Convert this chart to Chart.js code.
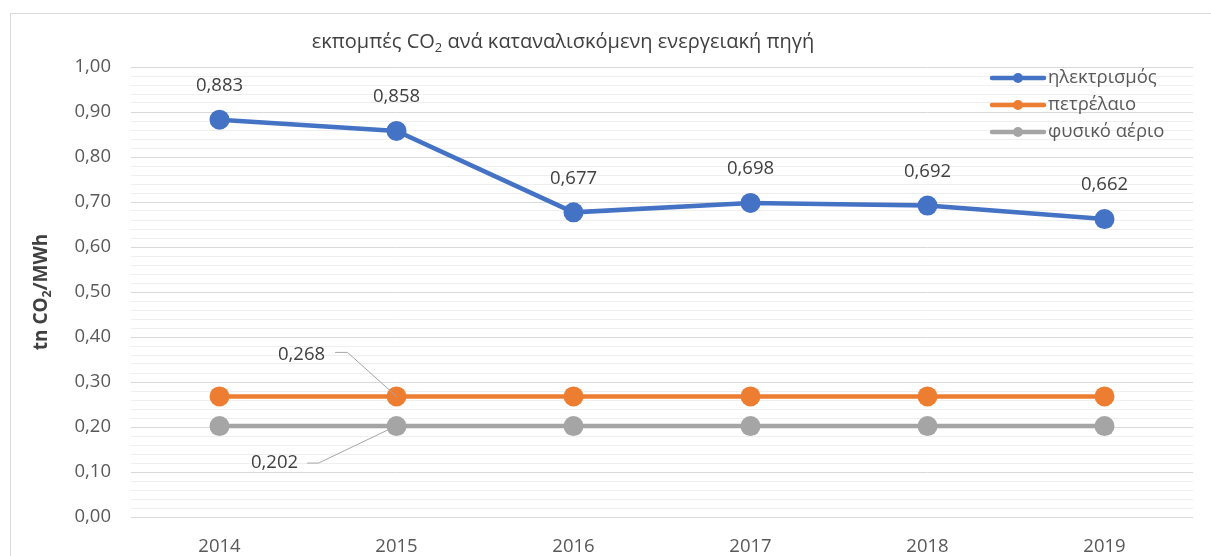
<!DOCTYPE html>
<html lang="el">
<head>
    <meta charset="UTF-8">
    <title>εκπομπές CO2 ανά καταναλισκόμενη ενεργειακή πηγή</title>
    <style>
        html, body { margin: 0; padding: 0; background: #ffffff; }
        #co2Chart { display: block; }
    </style>
    <script src="https://cdn.jsdelivr.net/npm/chart.js@4.4.6/dist/chart.umd.min.js"></script>
</head>
<body>
    <canvas id="co2Chart" width="1211" height="556"></canvas>

    <script>
        // chart data
        const years = ['2014', '2015', '2016', '2017', '2018', '2019'];
        const seriesNames = ['ηλεκτρισμός', 'πετρέλαιο', 'φυσικό αέριο'];
        const electricity = [0.883, 0.858, 0.677, 0.698, 0.692, 0.662];
        const oil = [0.268, 0.268, 0.268, 0.268, 0.268, 0.268];
        const naturalGas = [0.202, 0.202, 0.202, 0.202, 0.202, 0.202];
        const yMin = 0;
        const yMax = 1;
        const yMinorStep = 0.02;

        const colors = ['#4472C4', '#ED7D31', '#A5A5A5'];
        const FONT = "'Open Sans', sans-serif";
        const textGrey = '#595959';
        const labelGrey = '#404040';
        const textSize = 18.5;

        const fmt = v => v.toFixed(3).replace('.', ',');
        const isMajor = v => Math.round(v * 100) % 10 === 0;

        // draws text with a subscript "2" after CO
        function drawSubText(ctx, parts, x, y, size, align) {
            let total = 0;
            parts.forEach(p => {
                ctx.font = (p.bold ? 'bold ' : '') + (p.sub ? size * 0.65 : size) + 'px ' + FONT;
                p.w = ctx.measureText(p.t).width;
                total += p.w;
            });
            let cx = align === 'center' ? x - total / 2 : x;
            ctx.textAlign = 'left';
            ctx.textBaseline = 'middle';
            parts.forEach(p => {
                ctx.font = (p.bold ? 'bold ' : '') + (p.sub ? size * 0.65 : size) + 'px ' + FONT;
                ctx.fillText(p.t, cx, p.sub ? y + size * 0.3 : y);
                cx += p.w;
            });
        }

        const overlay = {
            id: 'overlay',
            beforeDraw(chart) {
                const ctx = chart.ctx;
                ctx.save();
                ctx.strokeStyle = '#d9d9d9';
                ctx.lineWidth = 1;
                ctx.strokeRect(10.5, 13.5, 1400, 700);
                ctx.restore();
            },
            afterDraw(chart) {
                const ctx = chart.ctx;
                ctx.save();

                // title
                ctx.fillStyle = labelGrey;
                drawSubText(ctx, [
                    { t: 'εκπομπές CO' }, { t: '2', sub: true },
                    { t: ' ανά καταναλισκόμενη ενεργειακή πηγή' }
                ], 563, 42, 20, 'center');

                // y axis title
                ctx.save();
                ctx.translate(42, 292);
                ctx.rotate(-Math.PI / 2);
                drawSubText(ctx, [
                    { t: 'tn CO', bold: true }, { t: '2', sub: true, bold: true },
                    { t: '/MWh', bold: true }
                ], 0, 0, 19, 'center');
                ctx.restore();

                // legend
                const legendY = [78, 105, 132];
                seriesNames.forEach((name, i) => {
                    const y = legendY[i];
                    ctx.strokeStyle = colors[i];
                    ctx.lineWidth = 4.5;
                    ctx.lineCap = 'round';
                    ctx.beginPath();
                    ctx.moveTo(992, y);
                    ctx.lineTo(1044, y);
                    ctx.stroke();
                    ctx.fillStyle = colors[i];
                    ctx.beginPath();
                    ctx.arc(1018, y, 5, 0, Math.PI * 2);
                    ctx.fill();
                    ctx.fillStyle = textGrey;
                    ctx.font = textSize + 'px ' + FONT;
                    ctx.textAlign = 'left';
                    ctx.textBaseline = 'middle';
                    ctx.fillText(name, 1048, y);
                });

                // data labels
                ctx.font = textSize + 'px ' + FONT;
                ctx.fillStyle = labelGrey;
                ctx.textAlign = 'center';
                ctx.textBaseline = 'middle';
                chart.getDatasetMeta(0).data.forEach((pt, i) => {
                    ctx.fillText(fmt(electricity[i]), pt.x, pt.y - 34);
                });

                // single labels with leader lines
                const callouts = [
                    { ds: 1, values: oil, idx: 1, text: [-95, -42],
                      line: [[-61, -44], [-49, -44], [0, 0]] },
                    { ds: 2, values: naturalGas, idx: 1, text: [-122, 37],
                      line: [[-89, 37], [-78, 37], [-9, 4]] }
                ];
                callouts.forEach(c => {
                    const pt = chart.getDatasetMeta(c.ds).data[c.idx];
                    ctx.strokeStyle = '#a6a6a6';
                    ctx.lineWidth = 1;
                    ctx.beginPath();
                    c.line.forEach((p, k) => {
                        if (k === 0) ctx.moveTo(pt.x + p[0], pt.y + p[1]);
                        else ctx.lineTo(pt.x + p[0], pt.y + p[1]);
                    });
                    ctx.stroke();
                    ctx.fillStyle = labelGrey;
                    ctx.fillText(fmt(c.values[c.idx]), pt.x + c.text[0], pt.y + c.text[1]);
                });

                ctx.restore();
            }
        };

        const makeSet = (label, data, color) => ({
            label: label,
            data: data,
            borderColor: color,
            backgroundColor: color,
            borderWidth: 4.5,
            pointRadius: 10,
            pointHoverRadius: 10,
            pointBorderWidth: 0,
            pointBackgroundColor: color,
            tension: 0
        });

        new Chart(document.getElementById('co2Chart'), {
            type: 'line',
            data: {
                labels: years,
                datasets: [
                    makeSet(seriesNames[0], electricity, colors[0]),
                    makeSet(seriesNames[1], oil, colors[1]),
                    makeSet(seriesNames[2], naturalGas, colors[2])
                ]
            },
            options: {
                responsive: false,
                devicePixelRatio: 1,
                animation: false,
                events: [],
                layout: { padding: { top: 67, right: 18, bottom: 0, left: 0 } },
                plugins: {
                    legend: { display: false },
                    tooltip: { enabled: false },
                    title: { display: false }
                },
                scales: {
                    x: {
                        offset: true,
                        grid: { display: false },
                        border: { display: false },
                        ticks: {
                            color: textGrey,
                            font: { family: FONT, size: textSize },
                            padding: 11
                        },
                        afterFit(scale) { scale.height = 39; }
                    },
                    y: {
                        min: yMin,
                        max: yMax,
                        border: { display: false },
                        grid: {
                            drawTicks: false,
                            lineWidth: 1,
                            color: c => isMajor(c.tick.value) ? '#d9d9d9' : '#efefef'
                        },
                        ticks: {
                            stepSize: yMinorStep,
                            autoSkip: false,
                            padding: 20,
                            color: textGrey,
                            font: { family: FONT, size: textSize },
                            callback: v => isMajor(v) ? v.toFixed(2).replace('.', ',') : ''
                        },
                        afterFit(scale) { scale.width = 131; }
                    }
                }
            },
            plugins: [overlay]
        });
    </script>
</body>
</html>
